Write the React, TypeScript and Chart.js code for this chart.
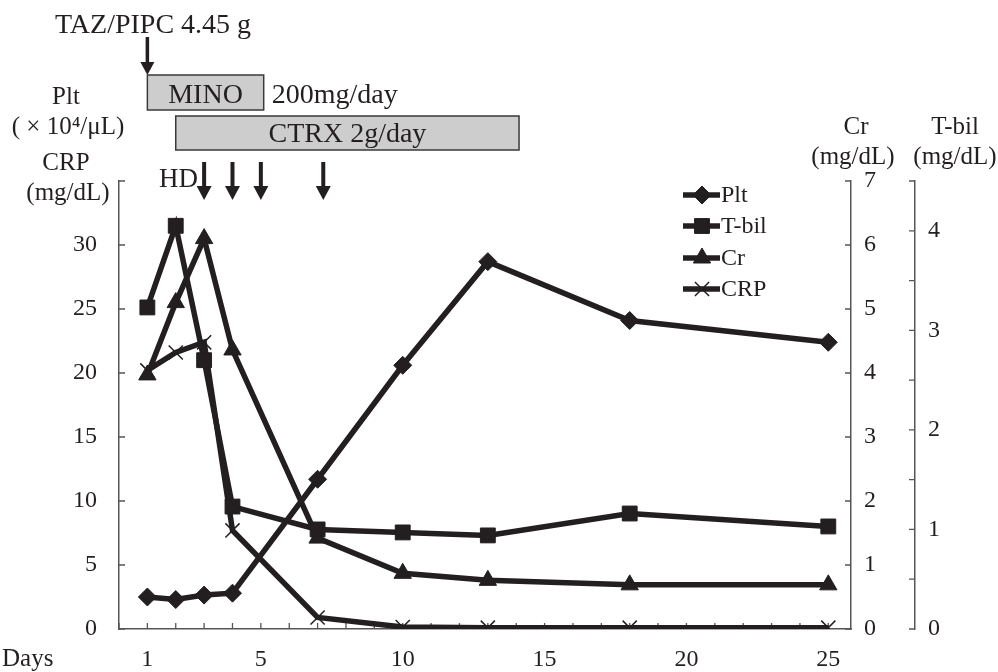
import React, { useEffect, useRef } from 'react';
import { Chart, registerables } from 'chart.js';
import { drawPoint } from 'chart.js/helpers';

Chart.register(...registerables);

const INK = '#231f20';
const AXIS = '#555555';
const SERIF = '"Liberation Serif", "Times New Roman", serif';

// ---- data ----
const days = [1, 2, 3, 4, 7, 10, 13, 18, 25];
const pltValues = [2.5, 2.3, 2.65, 2.8, 11.7, 20.6, 28.7, 24.1, 22.4];
const tbilValues = [3.23, 4.05, 2.7, 1.23, 1.0, 0.97, 0.94, 1.16, 1.03];
const crValues = [3.97, 5.1, 6.1, 4.36, 1.42, 0.87, 0.76, 0.69, 0.69];
const crpValues = [20.2, 21.6, 22.4, 7.7, 0.9, 0.15, 0.1, 0.1, 0.1];
const seriesLabels = ['Plt', 'T-bil', 'Cr', 'CRP'];
const xLabelDays = [1, 5, 10, 15, 20, 25];
const leftTicksHidden = [35];
const tazDay = 1;
const minoSpan = [1, 5.1];
const ctrxSpan = [2, 14.1];
const hdDays = [3, 4, 5, 7.2];

const toPoints = (vals: number[]) => days.map((d, i) => ({ x: d, y: vals[i] }));

function arrowDown(ctx: CanvasRenderingContext2D, x: number, yTop: number, yTip: number, headW: number, headH: number, shaftW: number) {
  ctx.fillStyle = INK;
  ctx.fillRect(x - shaftW / 2, yTop, shaftW, yTip - headH - yTop + 1);
  ctx.beginPath();
  ctx.moveTo(x - headW / 2, yTip - headH);
  ctx.lineTo(x + headW / 2, yTip - headH);
  ctx.lineTo(x, yTip);
  ctx.closePath();
  ctx.fill();
}

function drugBox(ctx: CanvasRenderingContext2D, x1: number, y1: number, x2: number, y2: number) {
  ctx.fillStyle = '#cdcdcd';
  ctx.fillRect(x1, y1, x2 - x1, y2 - y1);
  ctx.strokeStyle = '#3a3a3a';
  ctx.lineWidth = 1.5;
  ctx.strokeRect(x1, y1, x2 - x1, y2 - y1);
}

const inwardTicks = {
  id: 'inwardTicks',
  beforeDatasetsDraw(chart: any) {
    const ctx = chart.ctx as CanvasRenderingContext2D;
    const { x, y, yCr, yT } = chart.scales;
    const L = 6;
    ctx.save();
    ctx.strokeStyle = AXIS;
    ctx.lineWidth = 1.3;
    ctx.beginPath();
    x.ticks.forEach((t: any) => {
      const p = x.getPixelForValue(t.value);
      ctx.moveTo(p, x.top);
      ctx.lineTo(p, x.top - L);
    });
    y.ticks.forEach((t: any) => {
      const p = y.getPixelForValue(t.value);
      ctx.moveTo(y.right, p);
      ctx.lineTo(y.right + L, p);
    });
    [yCr, yT].forEach((s: any) =>
      s.ticks.forEach((t: any) => {
        const p = s.getPixelForValue(t.value);
        ctx.moveTo(s.left, p);
        ctx.lineTo(s.left - L, p);
      })
    );
    ctx.stroke();
    ctx.restore();
  },
};

const annotations = {
  id: 'annotations',
  afterDraw(chart: any) {
    const ctx = chart.ctx as CanvasRenderingContext2D;
    const xs = chart.scales.x;
    const px = (d: number) => xs.getPixelForValue(d);
    ctx.save();
    ctx.fillStyle = INK;
    ctx.textBaseline = 'alphabetic';

    // top treatment annotations
    ctx.font = `28px ${SERIF}`;
    ctx.textAlign = 'left';
    ctx.fillText('TAZ/PIPC 4.45 g', 55, 33);
    arrowDown(ctx, px(tazDay), 37, 75, 14, 13, 3.5);

    drugBox(ctx, px(minoSpan[0]), 75, px(minoSpan[1]), 110);
    drugBox(ctx, px(ctrxSpan[0]), 116, px(ctrxSpan[1]), 150);
    ctx.fillStyle = INK;
    ctx.textAlign = 'center';
    ctx.fillText('MINO', (px(minoSpan[0]) + px(minoSpan[1])) / 2, 103);
    ctx.fillText('CTRX 2g/day', (px(ctrxSpan[0]) + px(ctrxSpan[1])) / 2, 142);
    ctx.textAlign = 'left';
    ctx.fillText('200mg/day', px(minoSpan[1]) + 8, 103);

    // HD arrows
    ctx.font = `27px ${SERIF}`;
    ctx.fillText('HD', 159, 187);
    hdDays.forEach((d) => arrowDown(ctx, px(d), 162, 200, 15, 14, 4));

    // axis titles
    ctx.font = `25px ${SERIF}`;
    ctx.textAlign = 'center';
    ctx.fillText('Plt', 66, 104);
    ctx.fillText('( \u00d7 10\u2074/\u03bcL)', 68, 134);
    ctx.fillText('CRP', 66, 170);
    ctx.fillText('(mg/dL)', 68, 200);
    ctx.fillText('Cr', 856, 134);
    ctx.fillText('(mg/dL)', 853, 164);
    ctx.fillText('T-bil', 955, 134);
    ctx.fillText('(mg/dL)', 955, 164);
    ctx.textAlign = 'left';
    ctx.fillText('Days', 2, 666);

    // legend
    const rows = [195, 226, 258, 289];
    chart.data.datasets.forEach((ds: any, i: number) => {
      const yy = rows[i];
      ctx.strokeStyle = INK;
      ctx.lineWidth = 5.5;
      ctx.beginPath();
      ctx.moveTo(683, yy);
      ctx.lineTo(720, yy);
      ctx.stroke();
      ctx.fillStyle = INK;
      ctx.strokeStyle = INK;
      ctx.lineWidth = ds.pointBorderWidth;
      drawPoint(ctx, { pointStyle: ds.pointStyle, radius: ds.pointRadius, rotation: 0, borderWidth: ds.pointBorderWidth } as any, 702, yy);
      ctx.fillStyle = INK;
      ctx.font = `24px ${SERIF}`;
      ctx.textBaseline = 'middle';
      ctx.fillText(ds.label, 721, yy + 1);
      ctx.textBaseline = 'alphabetic';
    });
    ctx.restore();
  },
};

export default function App() {
  const ref = useRef<HTMLCanvasElement | null>(null);

  useEffect(() => {
    if (!ref.current) return;
    const common = {
      borderColor: INK,
      backgroundColor: INK,
      pointBackgroundColor: INK,
      pointBorderColor: INK,
      borderWidth: 5.5,
      showLine: true,
      tension: 0,
    };
    const tickFont = { family: SERIF, size: 24 };
    const chart = new Chart(ref.current, {
      type: 'scatter',
      data: {
        datasets: [
          { ...common, label: seriesLabels[0], data: toPoints(pltValues), yAxisID: 'y', pointStyle: 'rectRot', pointRadius: 9, pointBorderWidth: 1 },
          { ...common, label: seriesLabels[1], data: toPoints(tbilValues), yAxisID: 'yT', pointStyle: 'rect', pointRadius: 10.5, pointBorderWidth: 1 },
          { ...common, label: seriesLabels[2], data: toPoints(crValues), yAxisID: 'yCr', pointStyle: 'triangle', pointRadius: 10, pointBorderWidth: 1 },
          { ...common, label: seriesLabels[3], data: toPoints(crpValues), yAxisID: 'y', pointStyle: 'crossRot', pointRadius: 10, pointBorderWidth: 1.5 },
        ],
      },
      options: {
        responsive: false,
        animation: false,
        devicePixelRatio: 1,
        layout: { padding: { top: 181, left: 0, right: 0, bottom: 0 } },
        plugins: { legend: { display: false }, tooltip: { enabled: false } },
        scales: {
          x: {
            type: 'linear',
            min: 0,
            max: 25.8,
            grid: { display: false, drawTicks: false },
            border: { display: true, color: AXIS, width: 1.5 },
            ticks: {
              stepSize: 1,
              includeBounds: false,
              autoSkip: false,
              maxRotation: 0,
              padding: 16,
              color: INK,
              font: tickFont,
              callback: (v: any) => (xLabelDays.includes(Number(v)) ? String(v) : ''),
            },
            afterFit: (s: any) => { s.height = 43; },
          },
          y: {
            type: 'linear',
            position: 'left',
            min: 0,
            max: 35,
            grid: { display: false, drawTicks: false },
            border: { display: true, color: AXIS, width: 1.5 },
            ticks: {
              stepSize: 5,
              padding: 22,
              color: INK,
              font: tickFont,
              callback: (v: any) => (leftTicksHidden.includes(Number(v)) ? '' : String(v)),
            },
            afterFit: (s: any) => { s.width = 119; },
          },
          yCr: {
            type: 'linear',
            position: 'right',
            weight: 0,
            min: 0,
            max: 7,
            grid: { display: false, drawTicks: false },
            border: { display: true, color: AXIS, width: 1.5 },
            ticks: { stepSize: 1, padding: 13, color: INK, font: tickFont },
            afterFit: (s: any) => { s.width = 64; },
          },
          yT: {
            type: 'linear',
            position: 'right',
            weight: 1,
            min: 0,
            max: 4.5,
            grid: { display: false, drawTicks: false },
            border: { display: true, color: AXIS, width: 1.5 },
            ticks: {
              stepSize: 0.5,
              padding: 13,
              color: INK,
              font: tickFont,
              callback: (v: any) => (Number.isInteger(Number(v)) ? String(v) : ''),
            },
            afterFit: (s: any) => { s.width = 83; },
          },
        },
      } as any,
      plugins: [inwardTicks, annotations],
    });
    return () => chart.destroy();
  }, []);

  return (
    <div style={{ position: 'absolute', left: 0, top: 0, width: 998, height: 672, background: '#fff' }}>
      <canvas ref={ref} width={998} height={672} style={{ width: 998, height: 672, display: 'block' }} />
    </div>
  );
}
